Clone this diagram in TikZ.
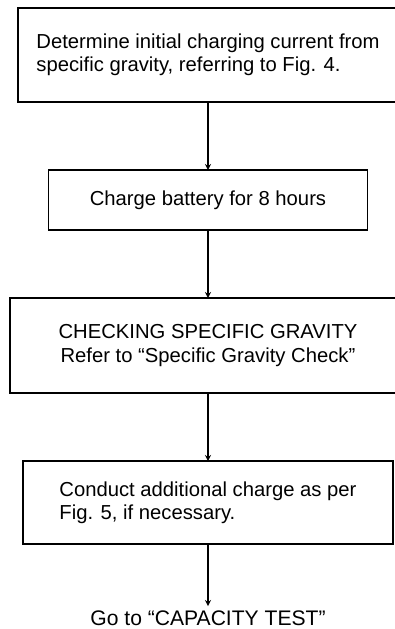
\documentclass[tikz,border=0pt]{standalone}
\usepackage{fontspec}
\setmainfont{Liberation Sans}
\usepackage{tikz}
\usetikzlibrary{arrows, positioning}

\begin{document}
\begin{tikzpicture}[
    node distance=1.7cm,
    stepbox/.style={rectangle, draw, line width=1.1pt, align=left, font=\fontsize{14.4}{16.5}\selectfont, inner sep=0pt, outer sep=0pt},
    arrow/.style={line width=0.9pt,->,>=stealth}
]
\useasboundingbox (0,0) rectangle (9.875,-15.725);

% Steps
\node[stepbox, minimum width=9.5cm, minimum height=2.35cm, anchor=north] (initial) at (5.2,-0.2)
    {Determine initial charging current from\\specific gravity, referring to Fig. 4.};
\node[stepbox, below=of initial, minimum width=7.975cm, minimum height=1.5cm] (charge)
    {Charge battery for 8 hours};
\node[stepbox, below=of charge, align=center, minimum width=9.9cm, minimum height=2.375cm] (gravity)
    {CHECKING SPECIFIC GRAVITY\\Refer to “Specific Gravity Check”};
\node[stepbox, below=of gravity, minimum width=9.25cm, minimum height=2.075cm] (additional)
    {Conduct additional charge as per\\Fig. 5, if necessary.};

% Next test
\node[below=1.55cm of additional, inner sep=0.12cm, outer sep=0pt, font=\fontsize{15}{17}\selectfont] (capacity)
    {Go to “CAPACITY TEST”};

% Arrows
\draw[arrow] (initial) -- (charge);
\draw[arrow] (charge) -- (gravity);
\draw[arrow] (gravity) -- (additional);
\draw[arrow] (additional) -- (capacity);

\end{tikzpicture}
\end{document}
